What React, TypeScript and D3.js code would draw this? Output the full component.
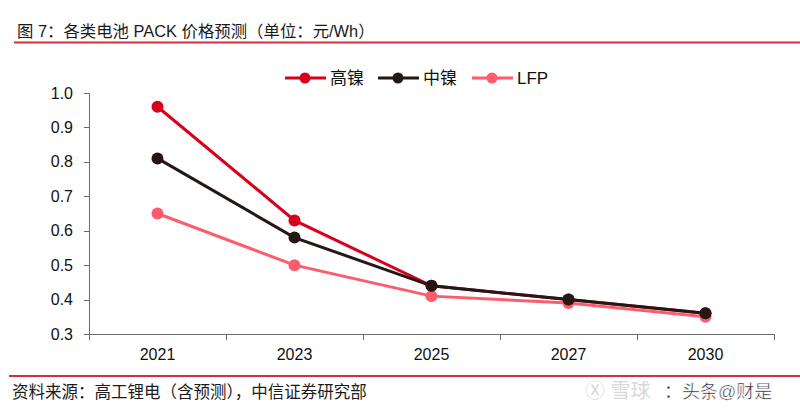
import React from "react";
import * as d3 from "d3";

const categories = ["2021", "2023", "2025", "2027", "2030"];
const highNi = [0.96, 0.63, 0.44, 0.40, 0.36];
const midNi = [0.81, 0.58, 0.44, 0.40, 0.36];
const lfp = [0.65, 0.50, 0.41, 0.39, 0.35];
const yTicks = [0.3, 0.4, 0.5, 0.6, 0.7, 0.8, 0.9, 1.0];
const seriesNames = ["高镍", "中镍", "LFP"];
const titleText = "图 7：各类电池 PACK 价格预测（单位：元/Wh）";
const sourceText = "资料来源：高工锂电（含预测），中信证券研究部";

const colors = ["#d9001b", "#231815", "#ff5b6f"];
const FONT = "'Liberation Sans', Arial, 'Noto Sans CJK SC', sans-serif";

export default function App() {
  const W = 800, H = 416;
  const x = d3.scaleBand<string>().domain(categories).range([89, 774]);
  const y = d3.scaleLinear().domain([0.3, 1.0]).range([334, 93]);
  const line = d3.line<number>()
    .x((_, i) => (x(categories[i]) as number) + x.bandwidth() / 2)
    .y((d) => y(d));
  const all = [highNi, midNi, lfp];
  const order = [2, 0, 1];
  const axisColor = "#6b6b6b";
  const legendX = [285, 378, 472];
  return (
    <svg width={W} height={H} style={{ position: "absolute", left: 0, top: 0, background: "#fff" }} fontFamily={FONT}>
      <rect x={0} y={0} width={W} height={H} fill="#fff" />
      <text x={17} y={37} fontSize={16.4} fill="#1a1a1a">{titleText}</text>
      <line x1={14} x2={800} y1={42.5} y2={42.5} stroke="#d32f3a" strokeWidth={2} />

      {/* legend */}
      {seriesNames.map((n, i) => (
        <g key={n}>
          <line x1={legendX[i]} x2={legendX[i] + 41} y1={78} y2={78} stroke={colors[i]} strokeWidth={3} />
          <circle cx={legendX[i] + 20} cy={78} r={5.5} fill={colors[i]} />
          <text x={legendX[i] + 45} y={84} fontSize={17} fill="#111">{n}</text>
        </g>
      ))}

      {/* y axis */}
      <line x1={89.5} x2={89.5} y1={y(1.0)} y2={y(0.3)} stroke={axisColor} strokeWidth={1} />
      {yTicks.map((t) => (
        <g key={t}>
          <line x1={84} x2={89.5} y1={Math.round(y(t)) + 0.5} y2={Math.round(y(t)) + 0.5} stroke={axisColor} />
          <text x={73} y={y(t) + 5.5} fontSize={16} textAnchor="end" fill="#111">{t.toFixed(1)}</text>
        </g>
      ))}

      {/* x axis */}
      <line x1={89} x2={774.5} y1={334.5} y2={334.5} stroke={axisColor} strokeWidth={1} />
      {categories.map((c, i) => (
        <g key={c}>
          <line x1={Math.round((x(c) as number) + x.bandwidth()) + 0.5} x2={Math.round((x(c) as number) + x.bandwidth()) + 0.5} y1={334.5} y2={340} stroke={axisColor} />
          <text x={(x(c) as number) + x.bandwidth() / 2} y={360} fontSize={16} textAnchor="middle" fill="#111">{c}</text>
        </g>
      ))}
      <line x1={89.5} x2={89.5} y1={334.5} y2={340} stroke={axisColor} />

      {/* series */}
      {order.map((si) => (
        <g key={si}>
          <path d={line(all[si]) || ""} fill="none" stroke={colors[si]} strokeWidth={3} />
          {all[si].map((v, i) => (
            <circle key={i} cx={(x(categories[i]) as number) + x.bandwidth() / 2} cy={y(v)} r={6} fill={colors[si]} />
          ))}
        </g>
      ))}

      {/* source */}
      <line x1={9} x2={800} y1={376} y2={376} stroke="#d32f3a" strokeWidth={2} />
      <text x={12} y={398} fontSize={16.5} fill="#1a1a1a">{sourceText}</text>
      <text x={585} y={398} fontSize={20} fill="#d8d8d8">Ⓧ 雪球</text>
      <text x={664} y={398} fontSize={18} fill="#222" stroke="#fff" strokeWidth={0.5}>：头条@财是</text>
    </svg>
  );
}
